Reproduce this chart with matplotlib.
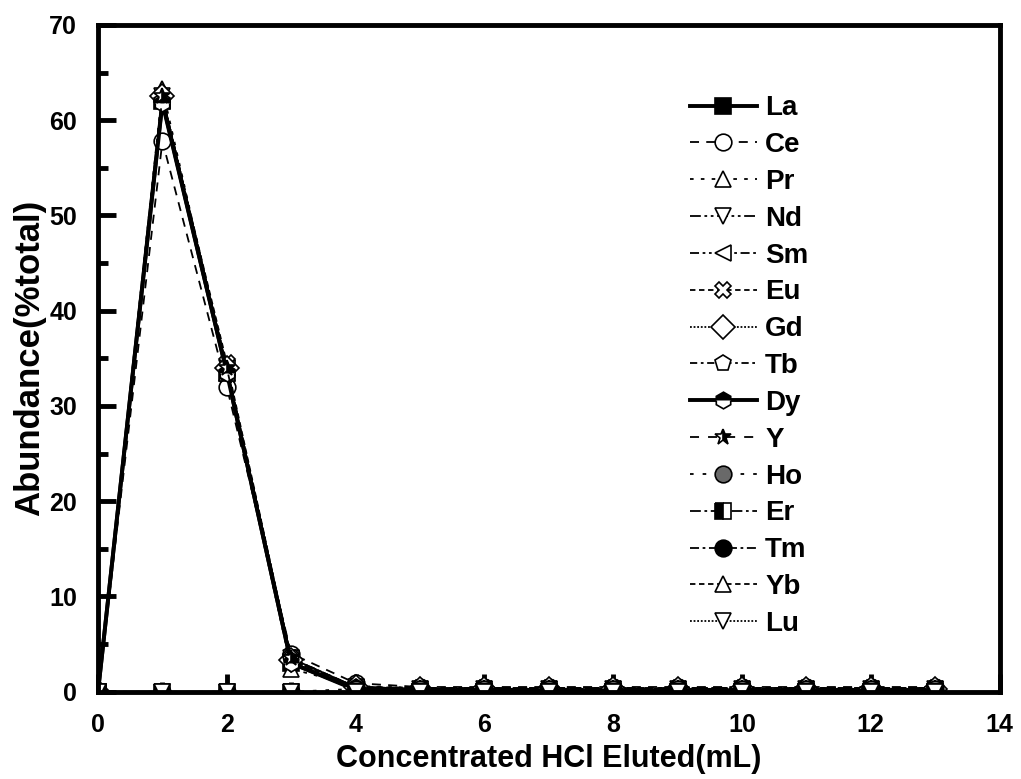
import numpy as np
import matplotlib.pyplot as plt

plt.rcParams['font.family'] = ['Liberation Sans', 'DejaVu Sans']
plt.rcParams['font.weight'] = 'bold'

# Eluted volume (mL)
x = [0, 1, 2, 3, 4, 5, 6, 7, 8, 9, 10, 11, 12, 13]

# Abundance (% of total) per element
La = [0, 62.0, 33.5, 3.0, 0.2, 0.0, 0.0, 0.0, 0.0, 0.0, 0.0, 0.0, 0.0, 0.0]
Ce = [0, 57.8, 32.0, 4.0, 0.9, 0.5, 0.5, 0.5, 0.5, 0.5, 0.5, 0.5, 0.5, 0.5]
Pr = [0, 63.3, 33.5, 2.4, 0.6, 0.4, 0.4, 0.4, 0.4, 0.4, 0.4, 0.4, 0.4, 0.4]
Nd = [0, 62.5, 34.0, 3.5, 0.5, 0.3, 0.3, 0.3, 0.3, 0.3, 0.3, 0.3, 0.3, 0.3]
Sm = [0, 62.0, 34.0, 3.5, 0.5, 0.3, 0.3, 0.3, 0.3, 0.3, 0.3, 0.3, 0.3, 0.3]
Eu = [0, 62.3, 34.5, 3.5, 0.5, 0.4, 0.4, 0.4, 0.4, 0.4, 0.4, 0.4, 0.4, 0.4]
Gd = [0, 62.5, 34.0, 3.3, 0.5, 0.3, 0.3, 0.3, 0.3, 0.3, 0.3, 0.3, 0.3, 0.3]
Tb = [0, 62.0, 33.5, 3.3, 0.5, 0.3, 0.3, 0.3, 0.3, 0.3, 0.3, 0.3, 0.3, 0.3]
Dy = [0, 61.8, 33.5, 3.0, 0.3, 0.1, 0.1, 0.1, 0.1, 0.1, 0.1, 0.1, 0.1, 0.1]
Y = [0, 62.5, 34.0, 3.5, 0.5, 0.4, 0.4, 0.4, 0.4, 0.4, 0.4, 0.4, 0.4, 0.4]
Ho = [0, 0.0, 0.0, 0.0, 0.3, 0.3, 0.3, 0.3, 0.3, 0.3, 0.3, 0.3, 0.3, 0.3]
Er = [0, 0.0, 0.0, 0.0, 0.0, 0.0, 0.0, 0.0, 0.0, 0.0, 0.0, 0.0, 0.0, 0.0]
Tm = [0, 0.0, 0.0, 0.0, 0.0, 0.0, 0.0, 0.0, 0.0, 0.0, 0.0, 0.0, 0.0, 0.0]
Yb = [0, 0.0, 0.0, 0.0, 0.0, 0.0, 0.0, 0.0, 0.0, 0.0, 0.0, 0.0, 0.0, 0.0]
Lu = [0, 0.0, 0.0, 0.0, 0.0, 0.0, 0.0, 0.0, 0.0, 0.0, 0.0, 0.0, 0.0, 0.0]

series = [
    ('La', La, '-', 's', 'full', 'black'),
    ('Ce', Ce, (0, (5, 4)), 'o', 'none', 'white'),
    ('Pr', Pr, (0, (2, 4)), '^', 'none', 'white'),
    ('Nd', Nd, (0, (6, 2, 1.5, 2, 1.5, 2)), 'v', 'none', 'white'),
    ('Sm', Sm, (0, (5, 2, 1.5, 2, 1.5, 2)), '<', 'none', 'white'),
    ('Eu', Eu, (0, (3, 2)), 'X', 'none', 'white'),
    ('Gd', Gd, (0, (1, 1)), 'D', 'none', 'white'),
    ('Tb', Tb, (0, (4, 2, 1.5, 2)), 'p', 'none', 'white'),
    ('Dy', Dy, '-', 'h', 'top', 'black'),
    ('Y', Y, (0, (5, 5)), '*', 'right', 'black'),
    ('Ho', Ho, (0, (2, 5)), 'o', 'full', 'dimgray'),
    ('Er', Er, (0, (6, 2, 1.5, 2)), 's', 'left', 'black'),
    ('Tm', Tm, (0, (5, 2, 1.5, 2)), 'o', 'full', 'black'),
    ('Yb', Yb, (0, (3, 2)), '^', 'none', 'white'),
    ('Lu', Lu, (0, (1, 1)), 'v', 'none', 'white'),
]

fig = plt.figure(figsize=(10.21, 7.79), dpi=100)
ax = fig.add_axes([0.096, 0.112, 0.883, 0.856])

for name, vals, ls, mk, fs, fc in series:
    lw = 2.8 if name in ('La', 'Dy') else 1.3
    kw = dict(linestyle=ls, color='black', linewidth=lw, marker=mk,
              markersize=12, markeredgecolor='black', markeredgewidth=1.2,
              label=name)
    if fs == 'none':
        kw.update(markerfacecolor='white')
    elif fs in ('top', 'left', 'right'):
        kw.update(fillstyle=fs, markerfacecolor='black',
                  markerfacecoloralt='white')
    else:
        kw.update(markerfacecolor=fc)
    ax.plot(x, vals, **kw)

ax.set_xlim(0, 14)
ax.set_ylim(0, 70)
ax.set_xticks(range(0, 15, 2))
ax.set_xticks(range(0, 15, 1), minor=True)
ax.set_yticks(range(0, 71, 10))
ax.set_yticks(range(0, 71, 5), minor=True)
ax.tick_params(which='major', direction='in', length=13, width=3.5,
               labelsize=18, pad=15)
ax.tick_params(which='minor', direction='in', length=7, width=3.5)
for s in ax.spines.values():
    s.set_linewidth(3.5)

ax.set_xlabel('Concentrated HCl Eluted(mL)', fontsize=22, fontweight='bold',
              labelpad=5)
ax.set_ylabel('Abundance(%total)', fontsize=25, fontweight='bold',
              labelpad=2)

leg = ax.legend(loc='upper left', bbox_to_anchor=(0.665, 0.892),
                bbox_transform=fig.transFigure, frameon=False,
                fontsize=20, handlelength=2.4, labelspacing=0.39,
                handletextpad=0.3, borderaxespad=0)

fig.savefig('out.png', dpi=100)
